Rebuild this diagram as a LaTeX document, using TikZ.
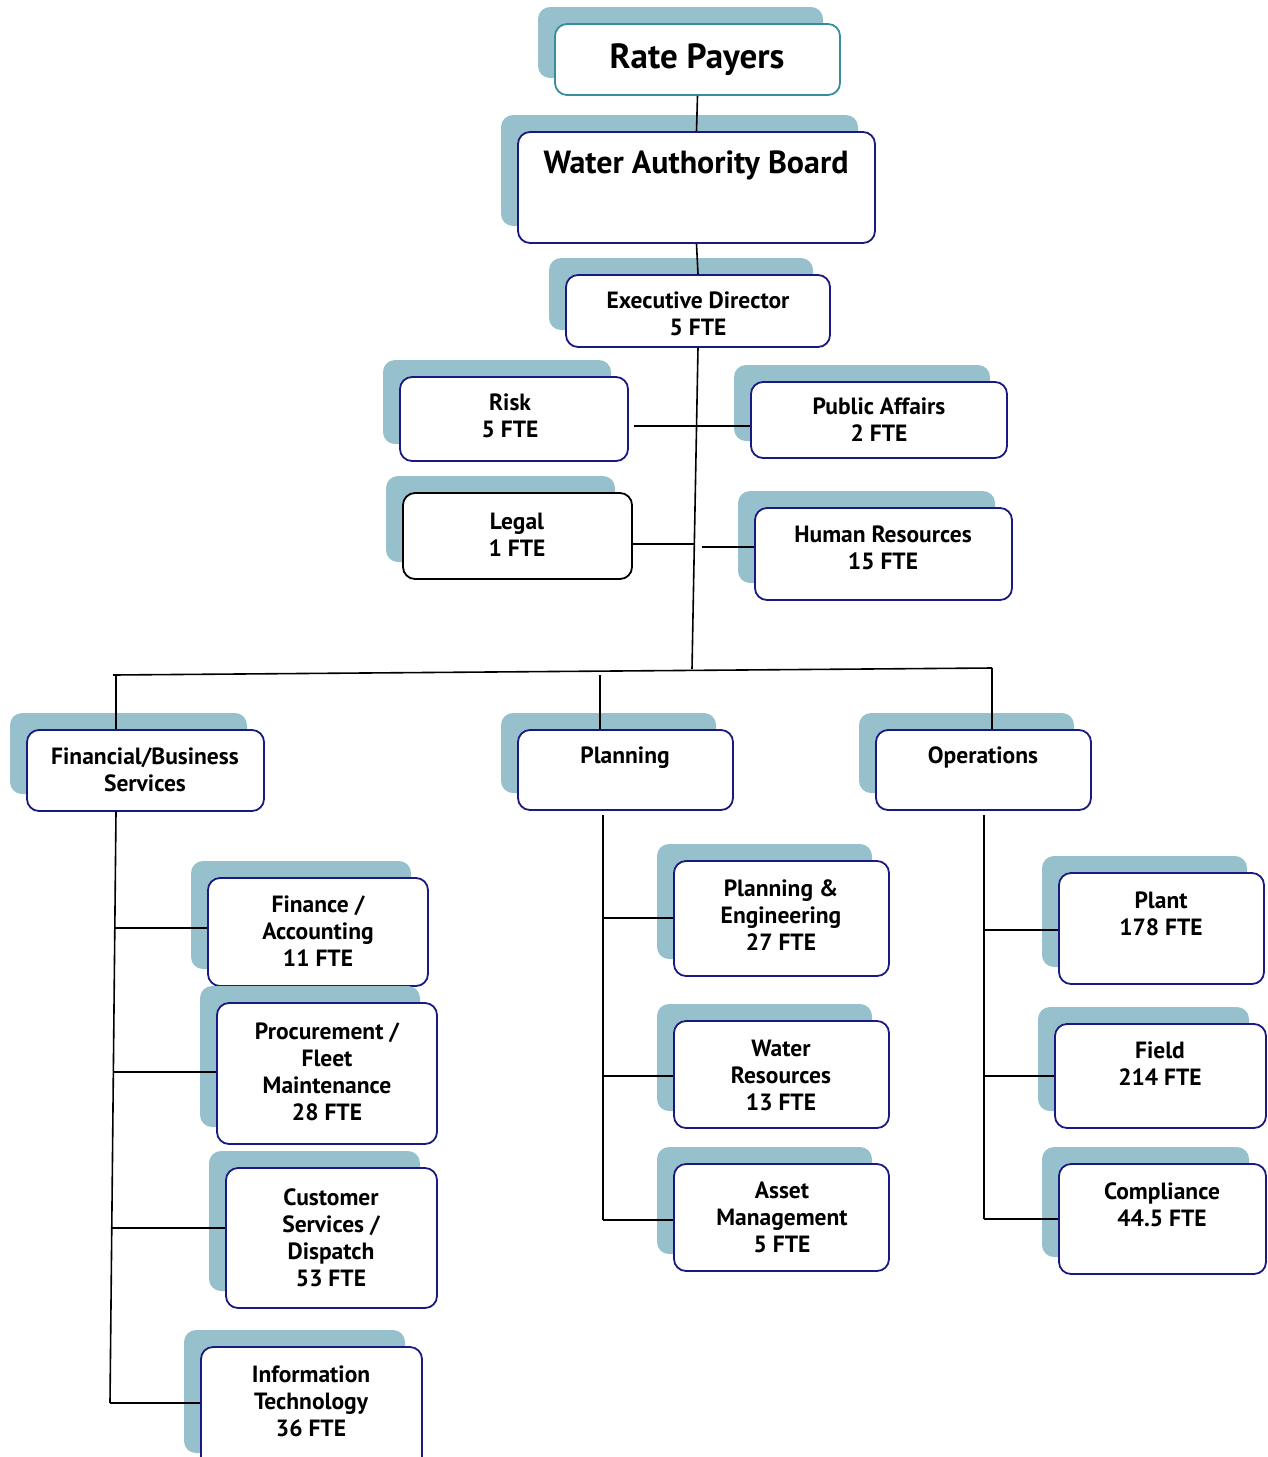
\documentclass[tikz,border=0pt]{standalone}
\usepackage{fontspec}
\setmainfont{PT Sans}
\usetikzlibrary{shadows}
\definecolor{shadowc}{RGB}{150,192,203}
\definecolor{navy}{RGB}{25,25,130}
\definecolor{tealb}{RGB}{55,140,160}
\begin{document}
\begin{tikzpicture}[x=1pt,y=-1pt,
  box/.style={draw=navy, line width=1.8pt, fill=white, rounded corners=12pt,
    general shadow={fill=shadowc, shadow xshift=-17pt, shadow yshift=17pt}, inner sep=0pt},
  txt/.style={font=\bfseries\fontsize{23.5}{27}\selectfont, align=center, anchor=base, inner sep=0pt},
  conn/.style={line width=1.6pt, black}]
\useasboundingbox (0,0) rectangle (1267,1457);

% boxes
\node[box, draw=tealb, minimum width=285pt, minimum height=71pt] (rp) at (697.5,59.5) {};
\node[box, minimum width=357pt, minimum height=111pt] (wab) at (696.5,187.5) {};
\node[box, minimum width=264pt, minimum height=72pt] (ed) at (698,311) {};
\node[box, minimum width=228pt, minimum height=84pt] (risk) at (514,419) {};
\node[box, minimum width=256pt, minimum height=76pt] (pa) at (879,420) {};
\node[box, draw=black, minimum width=229pt, minimum height=86pt] (legal) at (517.5,536) {};
\node[box, minimum width=257pt, minimum height=92pt] (hr) at (883.5,554) {};
\node[box, minimum width=237pt, minimum height=81pt] (fbs) at (145.5,770.5) {};
\node[box, minimum width=215pt, minimum height=80pt] (plan) at (625.5,770) {};
\node[box, minimum width=215pt, minimum height=80pt] (ops) at (983.5,770) {};
\node[box, minimum width=220pt, minimum height=108pt] (fa) at (318,932) {};
\node[box, minimum width=220pt, minimum height=141pt] (proc) at (327,1073.5) {};
\node[box, minimum width=211pt, minimum height=140pt] (cs) at (331.5,1238) {};
\node[box, minimum width=221pt, minimum height=123pt] (it) at (311.5,1408.5) {};
\node[box, minimum width=215pt, minimum height=115pt] (pe) at (781.5,918.5) {};
\node[box, minimum width=215pt, minimum height=107pt] (wr) at (781.5,1074.5) {};
\node[box, minimum width=215pt, minimum height=107pt] (am) at (781.5,1217.5) {};
\node[box, minimum width=205pt, minimum height=111pt] (plant) at (1161.5,928.5) {};
\node[box, minimum width=211pt, minimum height=104pt] (field) at (1160.5,1076) {};
\node[box, minimum width=207pt, minimum height=110pt] (comp) at (1162.5,1219) {};

% texts (anchored at the baseline of the last line)
\node[txt, font=\bfseries\fontsize{35}{40}\selectfont] (rpT) at (697,68) {Rate Payers};
\node[txt, font=\bfseries\fontsize{32}{36}\selectfont] (wabT) at (696,173) {Water Authority Board};
\node[txt] (edT) at (698,335) {Executive Director\\5 FTE};
\node[txt] (riskT) at (510,437) {Risk\\5 FTE};
\node[txt] (paT) at (879,441) {Public Affairs\\2 FTE};
\node[txt] (legalT) at (517,556) {Legal\\1 FTE};
\node[txt] (hrT) at (883,569) {Human Resources\\15 FTE};
\node[txt] (fbsT) at (145,791) {Financial/Business\\Services};
\node[txt] (planT) at (625,763) {Planning};
\node[txt] (opsT) at (983,763) {Operations};
\node[txt] (faT) at (318,966) {Finance /\\Accounting\\11 FTE};
\node[txt] (procT) at (327,1120) {Procurement /\\Fleet\\Maintenance\\28 FTE};
\node[txt] (csT) at (331,1286) {Customer\\Services /\\Dispatch\\53 FTE};
\node[txt] (itT) at (311,1436) {Information\\Technology\\36 FTE};
\node[txt] (peT) at (781,950) {Planning \&\\Engineering\\27 FTE};
\node[txt] (wrT) at (781,1110) {Water\\Resources\\13 FTE};
\node[txt] (amT) at (782,1252) {Asset\\Management\\5 FTE};
\node[txt] (plantT) at (1161,935) {Plant\\178 FTE};
\node[txt] (fieldT) at (1160,1085) {Field\\214 FTE};
\node[txt] (compT) at (1162,1226) {Compliance\\44.5 FTE};

% junction coordinates
\coordinate (trunkB) at (692,669);
\coordinate (jR) at (634,426);
\coordinate (jL) at (695,544);
\coordinate (jH) at (702,547);
\coordinate (busL) at (113,675);
\coordinate (busR) at (992,668);
\coordinate (bF) at (116,675);
\coordinate (bP) at (600,675);
\coordinate (bO) at (992,668);
\coordinate (fB) at (110,1403);
\coordinate (jfa) at (115,928);
\coordinate (jproc) at (114,1072);
\coordinate (jcs) at (112,1228);
\coordinate (pT) at (603,815);
\coordinate (pB) at (603,1220);
\coordinate (jpe) at (603,918);
\coordinate (jwr) at (603,1076);
\coordinate (oT) at (984,815);
\coordinate (oB) at (984,1219);
\coordinate (jpl) at (984,930);
\coordinate (jfi) at (984,1076);

% connectors
\draw[conn] (rp.south) -- (wab.north);
\draw[conn] (wab.south) -- (ed.north);
\draw[conn] (ed.south) -- (trunkB);
\draw[conn] (jR) -- (jR -| pa.west);
\draw[conn] (jL -| legal.east) -- (jL);
\draw[conn] (jH) -- (jH -| hr.west);
\draw[conn] (busL) -- (busR);
\draw[conn] (bF) -- (bF |- fbs.north);
\draw[conn] (bP) -- (bP |- plan.north);
\draw[conn] (bO) -- (bO |- ops.north);
\draw[conn] (bF |- fbs.south) -- (fB);
\draw[conn] (jfa) -- (jfa -| fa.west);
\draw[conn] (jproc) -- (jproc -| proc.west);
\draw[conn] (jcs) -- (jcs -| cs.west);
\draw[conn] (fB) -- (fB -| it.west);
\draw[conn] (pT) -- (pB);
\draw[conn] (jpe) -- (jpe -| pe.west);
\draw[conn] (jwr) -- (jwr -| wr.west);
\draw[conn] (pB) -- (pB -| am.west);
\draw[conn] (oT) -- (oB);
\draw[conn] (jpl) -- (jpl -| plant.west);
\draw[conn] (jfi) -- (jfi -| field.west);
\draw[conn] (oB) -- (oB -| comp.west);
\end{tikzpicture}
\end{document}
